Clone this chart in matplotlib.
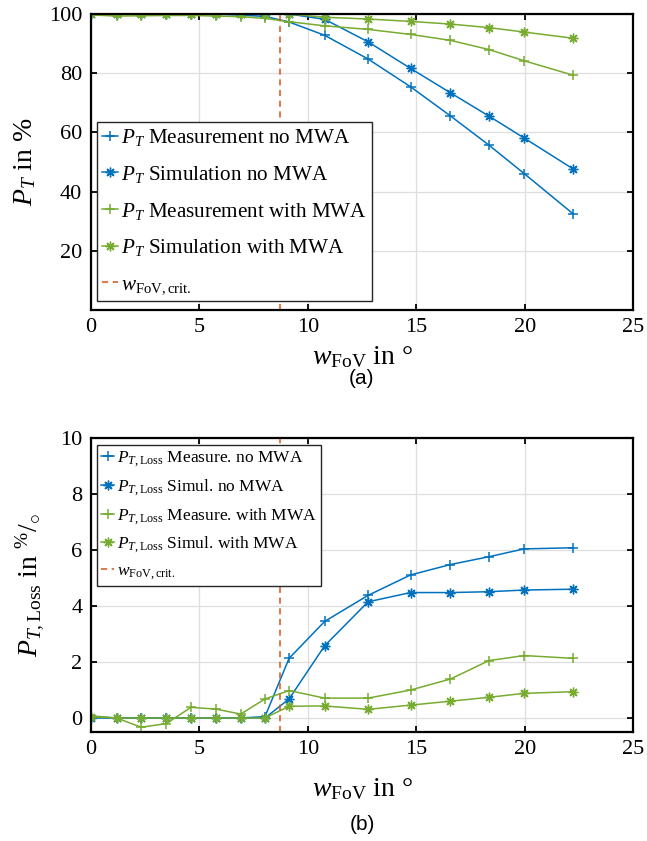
import matplotlib
matplotlib.use("Agg")
import matplotlib.pyplot as plt

plt.rcParams['font.family'] = ['Liberation Serif', 'DejaVu Serif']
plt.rcParams['mathtext.fontset'] = 'custom'
plt.rcParams['mathtext.rm'] = 'Liberation Serif'
plt.rcParams['mathtext.it'] = 'Liberation Serif:italic'
plt.rcParams['mathtext.bf'] = 'Liberation Serif:bold'

# ---------------- data ----------------
w_fov = [0, 1.19, 2.33, 3.48, 4.62, 5.76, 6.91, 8.03, 9.14, 10.78, 12.78,
         14.74, 16.57, 18.35, 19.97, 22.24]
w_crit = 8.73

pt_meas_no = [100, 100, 100, 100, 100, 100, 99.6, 99.2, 97.3, 92.8, 84.8,
              75.4, 65.6, 55.7, 46.1, 32.4]
pt_sim_no = [100, 100, 100, 100, 100, 100, 100, 100, 100, 98.2, 90.6,
             81.6, 73.4, 65.5, 58.1, 47.6]
pt_meas_with = [99.7, 99.3, 99.4, 99.5, 99.5, 99.3, 99.1, 98.5, 97.4, 96.0,
                94.8, 93.1, 91.1, 88.0, 84.2, 79.3]
pt_sim_with = [100, 100, 100, 100, 100, 100, 100, 100, 100, 98.9, 98.3,
               97.5, 96.6, 95.4, 93.9, 91.8]

loss_meas_no = [0.05, 0, 0, 0, 0, 0, 0, 0.05, 2.13, 3.45, 4.38, 5.11, 5.48,
                5.76, 6.04, 6.08]
loss_sim_no = [0, 0, 0, 0, 0, 0, 0, 0, 0.68, 2.58, 4.15, 4.48, 4.48, 4.51,
               4.57, 4.60]
loss_meas_with = [0.08, 0.0, -0.33, -0.2, 0.38, 0.32, 0.14, 0.68, 0.98, 0.71,
                  0.71, 1.0, 1.39, 2.05, 2.23, 2.13]
loss_sim_with = [0.05, 0, 0, 0, 0, 0, 0, 0, 0.42, 0.43, 0.31, 0.46, 0.60,
                 0.74, 0.88, 0.94]

labels_top = [r'$P_T$ Measurement no MWA', r'$P_T$ Simulation no MWA',
              r'$P_T$ Measurement with MWA', r'$P_T$ Simulation with MWA',
              r'$w_{\mathrm{FoV,crit.}}$']
labels_bot = [r'$P_{T,\mathrm{Loss}}$ Measure. no MWA',
              r'$P_{T,\mathrm{Loss}}$ Simul. no MWA',
              r'$P_{T,\mathrm{Loss}}$ Measure. with MWA',
              r'$P_{T,\mathrm{Loss}}$ Simul. with MWA',
              r'$w_{\mathrm{FoV,crit.}}$']

xticks = [0, 5, 10, 15, 20, 25]
yticks_top = [20, 40, 60, 80, 100]
yticks_bot = [0, 2, 4, 6, 8, 10]

BLUE = '#0072BD'
GREEN = '#77AC30'
ORANGE = '#D95319'
ASTER = (8, 2, 0)

fig = plt.figure(figsize=(6.47, 8.41), dpi=100)
ax1 = fig.add_axes([90.7/647, 1-310/841, 542.6/647, 296/841])
ax2 = fig.add_axes([90.7/647, 1-732/841, 542.6/647, 294/841])


def style(ax):
    ax.grid(True, color='#dedede', lw=0.9)
    ax.set_axisbelow(True)
    for s in ax.spines.values():
        s.set_linewidth(1.6)
        s.set_color('black')
    ax.tick_params(direction='in', length=4, width=1.3, top=True, right=True,
                   labelsize=16, pad=6)
    ax.set_xlim(0, 25)
    ax.set_xticks(xticks)


def plot_series(ax, ys, labels, fs, lspacing, loc, anchor):
    ms = 7
    ax.plot(w_fov, ys[0], color=BLUE, marker='+', ms=ms, lw=1.1, mew=1.1, label=labels[0])
    ax.plot(w_fov, ys[1], color=BLUE, marker=ASTER, ms=ms, lw=1.1, mew=1.0, label=labels[1])
    ax.plot(w_fov, ys[2], color=GREEN, marker='+', ms=ms, lw=1.1, mew=1.1, label=labels[2])
    ax.plot(w_fov, ys[3], color=GREEN, marker=ASTER, ms=ms, lw=1.1, mew=1.0, label=labels[3])
    ax.axvline(w_crit, color=ORANGE, ls=(0, (4, 3)), lw=1.1, label=labels[4])
    leg = ax.legend(loc=loc, bbox_to_anchor=anchor, fontsize=fs,
                    handlelength=0.75, handletextpad=0.15, labelspacing=lspacing,
                    borderpad=0.25, borderaxespad=0, fancybox=False,
                    framealpha=1, edgecolor='#262626')
    leg.get_frame().set_linewidth(1.0)
    return leg


style(ax1)
plot_series(ax1, [pt_meas_no, pt_sim_no, pt_meas_with, pt_sim_with], labels_top,
            15.2, 0.75, 'lower left', (0.0116, 0.03))
ax1.set_ylim(0, 100)
ax1.set_yticks(yticks_top)
ax1.set_ylabel(r'$P_T$ in %', fontsize=20, labelpad=8)
ax1.set_xlabel(r'$w_{\mathrm{FoV}}$ in $\degree$', fontsize=20, labelpad=5)

style(ax2)
plot_series(ax2, [loss_meas_no, loss_sim_no, loss_meas_with, loss_sim_with], labels_bot,
            12.5, 0.45, 'upper left', (0.0116, 0.976))
ax2.set_ylim(-0.5, 10)
ax2.set_yticks(yticks_bot)
ax2.set_ylabel(r'$P_{T,\mathrm{Loss}}$ in ${}^{\%}/{}_{\circ}$', fontsize=20, labelpad=10)
ax2.set_xlabel(r'$w_{\mathrm{FoV}}$ in $\degree$', fontsize=20, labelpad=12)

fig.text(362/647, 1-378/841, '(a)', ha='center', va='center', fontsize=15,
         family=['Liberation Sans', 'DejaVu Sans'])
fig.text(362/647, 1-825/841, '(b)', ha='center', va='center', fontsize=15,
         family=['Liberation Sans', 'DejaVu Sans'])

fig.savefig('out.png', dpi=100)
